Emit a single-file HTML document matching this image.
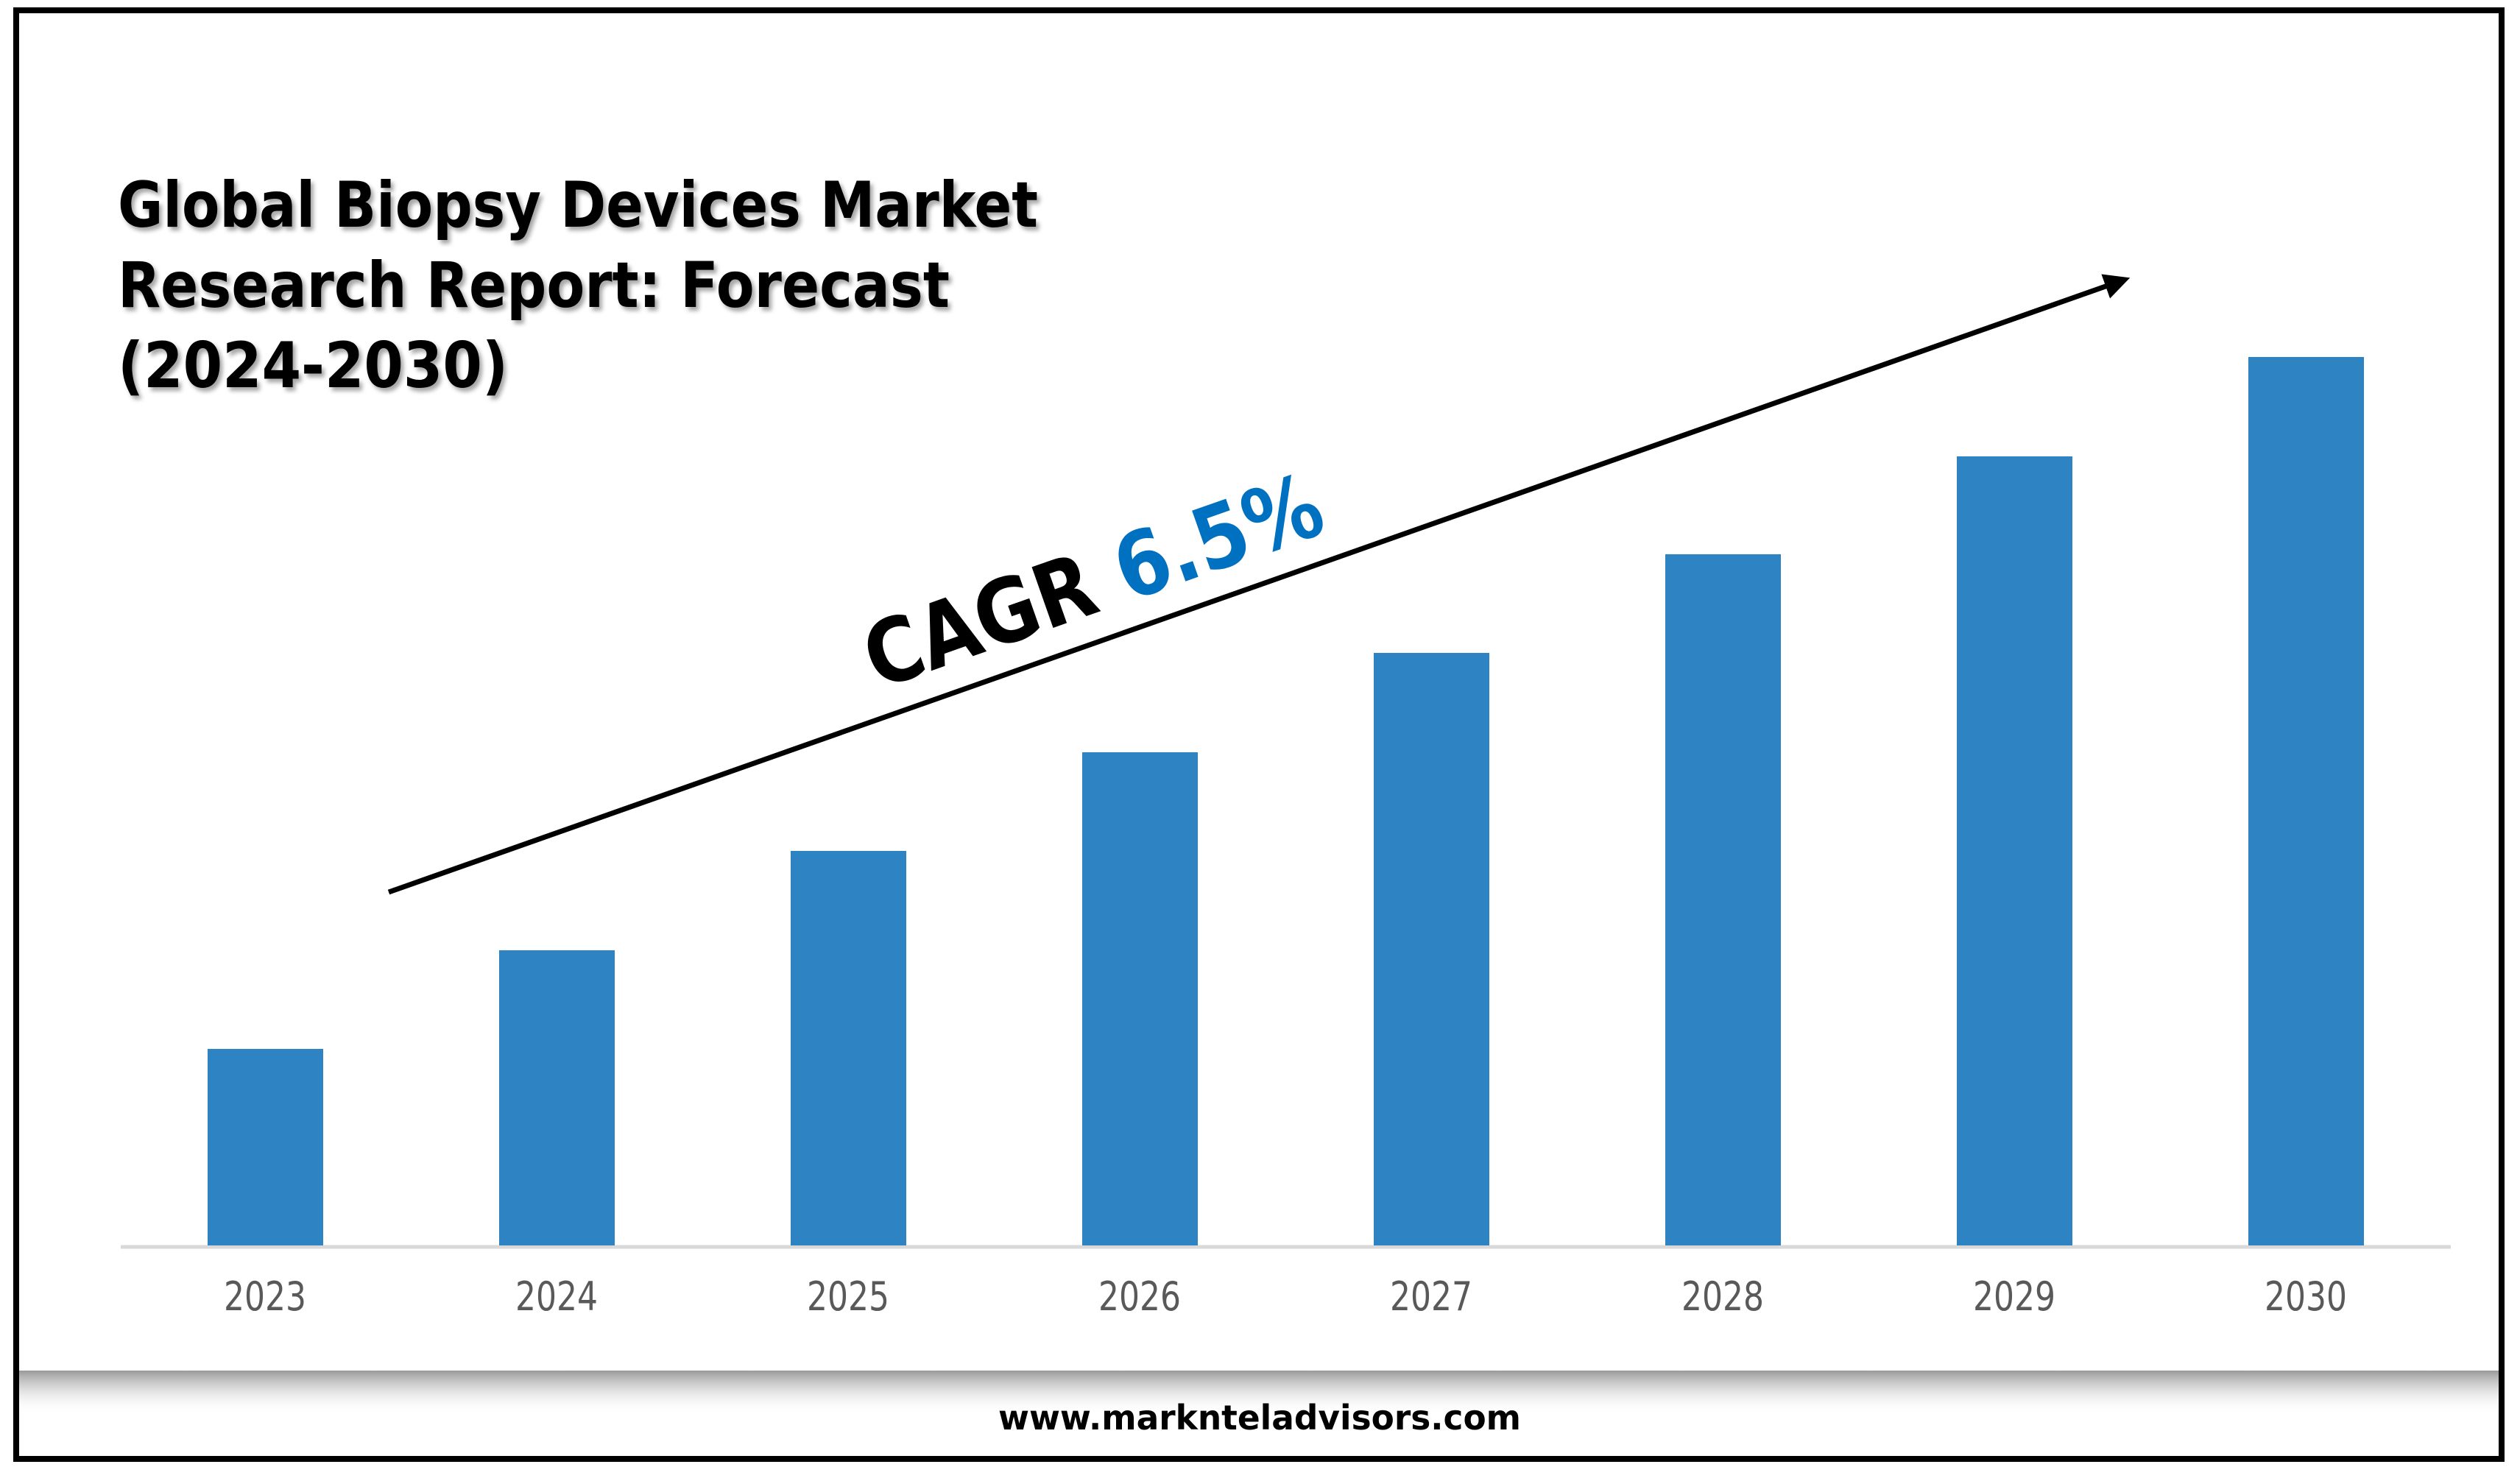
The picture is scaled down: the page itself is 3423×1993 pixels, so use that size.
<!DOCTYPE html>
<html><head><meta charset="utf-8"><style>
html,body{margin:0;padding:0;background:#fff;}
svg{display:block;}
</style></head><body>
<svg width="3423" height="1993" viewBox="0 0 3423 1993" xmlns="http://www.w3.org/2000/svg">
<defs>
<filter id="ts" x="-5%" y="-5%" width="110%" height="120%"><feDropShadow dx="4" dy="5" stdDeviation="3" flood-color="#000" flood-opacity="0.35"/></filter>
<linearGradient id="sh" x1="0" y1="0" x2="0" y2="1"><stop offset="0" stop-color="#999"/><stop offset="1" stop-color="#fff" stop-opacity="0"/></linearGradient>
<marker id="ah" markerWidth="5" markerHeight="5" refX="3" refY="2.5" orient="auto"><path d="M0,0 L5,2.5 L0,5 z" fill="#000"/></marker>
</defs>
<rect x="0" y="0" width="3423" height="1993" fill="#fff"/>
<rect x="22" y="14" width="3376" height="1968" fill="none" stroke="#000" stroke-width="8"/>
<rect x="26" y="1862" width="3368" height="60" fill="url(#sh)"/>
<g font-family="'DejaVu Sans','Liberation Sans',sans-serif" font-weight="bold" font-size="86" fill="#000" filter="url(#ts)">
<text x="160" y="308" textLength="1250" lengthAdjust="spacingAndGlyphs">Global Biopsy Devices Market</text>
<text x="160" y="417" textLength="1130" lengthAdjust="spacingAndGlyphs">Research Report: Forecast</text>
<text x="160" y="526" textLength="530" lengthAdjust="spacingAndGlyphs">(2024-2030)</text>
</g>
<line x1="164" y1="1694" x2="3329" y2="1694" stroke="#d9d9d9" stroke-width="5"/>
<g fill="#2e83c3">
<rect x="282" y="1425" width="157" height="267"/>
<rect x="678" y="1291" width="157" height="401"/>
<rect x="1074" y="1156" width="157" height="536"/>
<rect x="1470" y="1022" width="157" height="670"/>
<rect x="1866" y="887" width="157" height="805"/>
<rect x="2262" y="753" width="157" height="939"/>
<rect x="2658" y="620" width="157" height="1072"/>
<rect x="3054" y="485" width="157" height="1207"/>
</g>
<g font-family="'DejaVu Sans','Liberation Sans',sans-serif" font-size="54" fill="#595959" text-anchor="middle">
<text x="360" y="1780" textLength="112" lengthAdjust="spacingAndGlyphs">2023</text>
<text x="756" y="1780" textLength="112" lengthAdjust="spacingAndGlyphs">2024</text>
<text x="1152" y="1780" textLength="112" lengthAdjust="spacingAndGlyphs">2025</text>
<text x="1548" y="1780" textLength="112" lengthAdjust="spacingAndGlyphs">2026</text>
<text x="1944" y="1780" textLength="112" lengthAdjust="spacingAndGlyphs">2027</text>
<text x="2340" y="1780" textLength="112" lengthAdjust="spacingAndGlyphs">2028</text>
<text x="2736" y="1780" textLength="112" lengthAdjust="spacingAndGlyphs">2029</text>
<text x="3132" y="1780" textLength="112" lengthAdjust="spacingAndGlyphs">2030</text>
</g>
<line x1="528" y1="1212" x2="2880" y2="382" stroke="#000" stroke-width="7" marker-end="url(#ah)"/>
<g transform="translate(1192,937) rotate(-19.4)" font-family="'DejaVu Sans','Liberation Sans',sans-serif" font-weight="bold" font-size="120">
<text x="0" y="0" textLength="650" lengthAdjust="spacingAndGlyphs"><tspan fill="#000">CAGR </tspan><tspan fill="#0070c0">6.5%</tspan></text>
</g>
<text x="1711" y="1942" text-anchor="middle" font-family="'DejaVu Sans','Liberation Sans',sans-serif" font-weight="bold" font-size="46" fill="#000" textLength="710" lengthAdjust="spacingAndGlyphs">www.marknteladvisors.com</text>
</svg>
</body></html>
